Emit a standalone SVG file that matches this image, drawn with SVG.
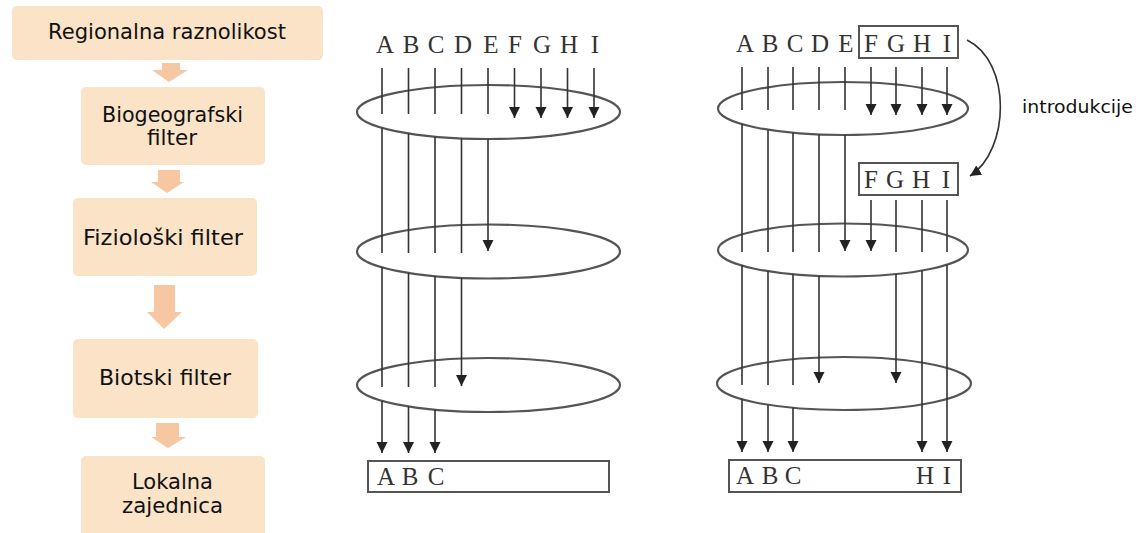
<svg xmlns="http://www.w3.org/2000/svg" width="1144" height="533" viewBox="0 0 1144 533">
<style>
.box{fill:#FAE3C7}
.barrow{fill:#F6C7A1}
.lbl{font-family:"DejaVu Sans","Noto Sans",sans-serif;font-size:20.5px;fill:#111;text-anchor:middle}
.let{font-family:"Liberation Serif","DejaVu Serif",serif;font-size:25px;fill:#333;text-anchor:middle}
.ln{stroke:#333;stroke-width:1.6;fill:none}
.ar{stroke:#333;stroke-width:1.6;fill:none;marker-end:url(#ah)}
.ell{fill:none;stroke:#555;stroke-width:2.2}
.frame{fill:none;stroke:#555;stroke-width:2}
.intro{font-family:"DejaVu Sans","Noto Sans",sans-serif;font-size:17px;fill:#111}
</style>
<defs>
<marker id="ah" markerUnits="userSpaceOnUse" markerWidth="12" markerHeight="12" viewBox="0 0 12 12" refX="11" refY="6" orient="auto">
<path d="M0,0.5 L11,6 L0,11.5 Z" fill="#222"/>
</marker>
</defs>

<g id="flow">
<g id="n-regional"><rect class="box" x="12" y="6" width="311" height="54" rx="5"/><text class="lbl" x="167" y="39" textLength="238" lengthAdjust="spacingAndGlyphs">Regionalna raznolikost</text></g>
<path class="barrow" d="M162,63 H180 V70 H188 L169,82 L152,70 H162 Z"/>
<g id="n-biogeo"><rect class="box" x="81" y="87" width="184" height="78" rx="5"/><text class="lbl" x="172.5" y="122" textLength="141" lengthAdjust="spacingAndGlyphs">Biogeografski</text><text class="lbl" x="172" y="145" textLength="50" lengthAdjust="spacingAndGlyphs">filter</text></g>
<path class="barrow" d="M158,170 H180 V182 H184 L167,193 L151,182 H158 Z"/>
<g id="n-fizio"><rect class="box" x="73" y="198" width="184" height="78" rx="5"/><text class="lbl" x="163" y="245" textLength="160" lengthAdjust="spacingAndGlyphs">Fiziološki filter</text></g>
<path class="barrow" d="M154,285 H175 V312 H182 L164,329 L147,312 H154 Z"/>
<g id="n-biotski"><rect class="box" x="73" y="339" width="185" height="79" rx="5"/><text class="lbl" x="165" y="385" textLength="132" lengthAdjust="spacingAndGlyphs">Biotski filter</text></g>
<path class="barrow" d="M156,423 H179 V437 H186 L168,448 L151,437 H156 Z"/>
<g id="n-lokalna"><rect class="box" x="81" y="456" width="184" height="82" rx="5"/><text class="lbl" x="172.5" y="489" textLength="81" lengthAdjust="spacingAndGlyphs">Lokalna</text><text class="lbl" x="172.5" y="513" textLength="101" lengthAdjust="spacingAndGlyphs">zajednica</text></g>
</g>

<g id="middle">
<g id="m-letters">
<text class="let" x="385" y="53">A</text><text class="let" x="411" y="53">B</text><text class="let" x="436" y="53">C</text><text class="let" x="463" y="53">D</text><text class="let" x="491" y="53">E</text><text class="let" x="515" y="53">F</text><text class="let" x="542" y="53">G</text><text class="let" x="569" y="53">H</text><text class="let" x="595" y="53">I</text>
</g>
<ellipse id="m-f1" class="ell" cx="488.5" cy="112" rx="131.5" ry="27"/>
<ellipse id="m-f2" class="ell" cx="488.5" cy="251.5" rx="131.5" ry="27"/>
<ellipse id="m-f3" class="ell" cx="488.5" cy="385" rx="131.5" ry="27"/>
<g id="m-result"><rect class="frame" x="368" y="461" width="241" height="31"/>
<text class="let" x="386" y="485" font-size="26">A</text><text class="let" x="410" y="485" font-size="26">B</text><text class="let" x="436" y="485" font-size="26">C</text></g>
</g>

<g id="right">
<g id="r-letters">
<text class="let" x="745" y="52">A</text><text class="let" x="770" y="52">B</text><text class="let" x="795" y="52">C</text><text class="let" x="820" y="52">D</text><text class="let" x="846" y="52">E</text><text class="let" x="871" y="52">F</text><text class="let" x="896" y="52">G</text><text class="let" x="922" y="52">H</text><text class="let" x="947" y="52">I</text>
<rect class="frame" x="859" y="26" width="99" height="32"/>
</g>
<g id="r-intro-box"><rect class="frame" x="859" y="163" width="99" height="32"/>
<text class="let" x="871" y="188">F</text><text class="let" x="895" y="188">G</text><text class="let" x="921" y="188">H</text><text class="let" x="946" y="188">I</text></g>
<ellipse id="r-f1" class="ell" cx="843" cy="108.5" rx="125" ry="26.5"/>
<ellipse id="r-f2" class="ell" cx="843" cy="250" rx="125" ry="26.5"/>
<ellipse id="r-f3" class="ell" cx="844" cy="383.5" rx="127" ry="26.5"/>
<g id="r-result"><rect class="frame" x="729" y="460" width="232" height="32"/>
<text class="let" x="745" y="484" font-size="26">A</text><text class="let" x="770" y="484" font-size="26">B</text><text class="let" x="793" y="484" font-size="26">C</text><text class="let" x="925" y="484" font-size="26">H</text><text class="let" x="947" y="484" font-size="26">I</text></g>
<text id="intro-label" class="intro" x="1022" y="113" textLength="111" lengthAdjust="spacingAndGlyphs">introdukcije</text>
</g>

<g id="connectors">
<path class="ln" d="M382,68 V114 M382,127.8 V253 M382,267.3 V387"/><path class="ar" d="M382,400.8 V453"/>
<path class="ln" d="M408.5,68 V114 M408.5,133.4 V253 M408.5,272.9 V387"/><path class="ar" d="M408.5,406.4 V453"/>
<path class="ln" d="M435,68 V114 M435,136.7 V253 M435,276.2 V387"/><path class="ar" d="M435,409.7 V453"/>
<path class="ln" d="M461.5,68 V114 M461.5,138.4 V253"/><path class="ar" d="M461.5,277.9 V386"/>
<path class="ln" d="M488,68 V114"/><path class="ar" d="M488,139 V251"/>
<path class="ar" d="M514.5,68 V118"/><path class="ar" d="M541,68 V118"/><path class="ar" d="M567.5,68 V118"/><path class="ar" d="M594,68 V118"/>
<path class="ln" d="M742,67 V110 M742,124.1 V252 M742,265.6 V385"/><path class="ar" d="M742,399.1 V452"/>
<path class="ln" d="M768,67 V110 M768,129.7 V252 M768,271.2 V385"/><path class="ar" d="M768,404.7 V452"/>
<path class="ln" d="M793,67 V110 M793,132.8 V252 M793,274.3 V385"/><path class="ar" d="M793,407.8 V452"/>
<path class="ln" d="M819,67 V110 M819,134.5 V252"/><path class="ar" d="M819,276 V383"/>
<path class="ln" d="M845,67 V110"/><path class="ar" d="M845,135 V251"/>
<path class="ar" d="M871,67 V115"/><path class="ar" d="M896,67 V115"/><path class="ar" d="M922,67 V115"/><path class="ar" d="M947,67 V115"/>
<path class="ar" d="M871,200 V251"/>
<path class="ln" d="M896,200 V252"/><path class="ar" d="M896,274 V383"/>
<path class="ln" d="M922,200 V252"/><path class="ar" d="M922,270.5 V452"/>
<path class="ln" d="M947,200 V252"/><path class="ar" d="M947,264.7 V452"/>
<path class="ar" d="M967,40 C1012,62 1010,150 970,176"/>
</g>
</svg>
